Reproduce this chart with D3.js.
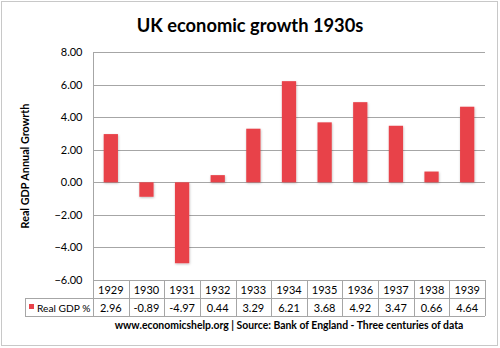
<!DOCTYPE html>
<html><head><meta charset="utf-8">
<script src="https://cdn.jsdelivr.net/npm/d3@7"></script>
<style>body{margin:0;background:#fff}svg{display:block;font-family:Lato,"Open Sans",sans-serif}</style>
</head><body>
<svg id="c" width="500" height="348"></svg>
<script>
const years = ["1929","1930","1931","1932","1933","1934","1935","1936","1937","1938","1939"];
const gdp = [2.96,-0.89,-4.97,0.44,3.29,6.21,3.68,4.92,3.47,0.66,4.64];
const gdpLabels = ["2.96","-0.89","-4.97","0.44","3.29","6.21","3.68","4.92","3.47","0.66","4.64"];
const yTicks = [8,6,4,2,0,-2,-4,-6];
const seriesName = "Real GDP %";
const titleText = "UK economic growth 1930s";
const yLabel = "Real GDP Annual Growrth";
const footer = "www.economicshelp.org | Source: Bank of England - Three centuries of data";

const svg = d3.select("#c");
const L = 93, R = 485, T = 52, B = 280;
const rowH = 18, legL = 25;
const red = "#e8434a", grid = "#a6a6a6";

svg.append("rect").attr("x",1.5).attr("y",1.5).attr("width",496).attr("height",344)
  .attr("fill","#fff").attr("stroke","#c8c8c8");

const y = d3.scaleLinear().domain([-6,8]).range([B,T]);
const x = d3.scaleBand().domain(years).range([L,R]).paddingInner(0.6).paddingOuter(0.3);
const col = d3.scaleBand().domain(years).range([L,R]).padding(0);

svg.append("text").attr("x",250).attr("y",32).attr("text-anchor","middle")
  .attr("font-size",18.3).attr("font-weight","bold").attr("fill","#000").text(titleText);

// gridlines
svg.append("g").selectAll("line").data(yTicks).join("line")
  .attr("x1",L).attr("x2",R).attr("y1",d=>Math.round(y(d))+0.5).attr("y2",d=>Math.round(y(d))+0.5)
  .attr("stroke",grid).attr("stroke-width",1);

// y axis
const ya = svg.append("g").attr("transform",`translate(${L+0.5},0)`)
  .call(d3.axisLeft(y).tickValues(yTicks).tickFormat(d3.format(".2f")).tickSize(0).tickPadding(11));
ya.select(".domain").remove();
ya.selectAll("text").attr("font-size",11).attr("fill","#000").attr("font-family","Lato,sans-serif");
svg.append("line").attr("x1",L+0.5).attr("x2",L+0.5).attr("y1",T).attr("y2",B+2*rowH).attr("stroke",grid);

svg.append("text").attr("transform",`translate(29,${(T+B)/2}) rotate(-90)`).attr("text-anchor","middle")
  .attr("font-size",10.8).attr("font-weight","bold").text(yLabel);

// bars with shadow
const defs = svg.append("defs");
const f = defs.append("filter").attr("id","sh").attr("x","-30%").attr("y","-30%").attr("width","160%").attr("height","160%");
f.append("feDropShadow").attr("dx",0.5).attr("dy",1).attr("stdDeviation",1).attr("flood-color","#000").attr("flood-opacity",0.25);

svg.append("g").selectAll("rect").data(gdp).join("rect")
  .attr("x",(d,i)=>x(years[i])).attr("width",x.bandwidth())
  .attr("y",d=>y(Math.max(0,d))).attr("height",d=>Math.abs(y(d)-y(0)))
  .attr("fill",red).attr("filter","url(#sh)");

// data table
const t = svg.append("g").attr("stroke",grid).attr("fill","none");
t.append("line").attr("x1",L).attr("x2",R).attr("y1",B+0.5).attr("y2",B+0.5);
t.append("line").attr("x1",legL).attr("x2",R).attr("y1",B+rowH+0.5).attr("y2",B+rowH+0.5);
t.append("line").attr("x1",legL).attr("x2",R).attr("y1",B+2*rowH+0.5).attr("y2",B+2*rowH+0.5);
t.append("line").attr("x1",legL+0.5).attr("x2",legL+0.5).attr("y1",B+rowH).attr("y2",B+2*rowH);
t.selectAll("line.v").data(years).join("line").attr("class","v")
  .attr("x1",d=>Math.round(col(d)+col.bandwidth())+0.5).attr("x2",d=>Math.round(col(d)+col.bandwidth())+0.5)
  .attr("y1",B).attr("y2",B+2*rowH);

svg.append("g").selectAll("text").data(years).join("text")
  .attr("x",d=>col(d)+col.bandwidth()/2).attr("y",B+13.5).attr("text-anchor","middle")
  .attr("font-size",11).text(d=>d);
svg.append("g").selectAll("text").data(gdpLabels).join("text")
  .attr("x",(d,i)=>col(years[i])+col.bandwidth()/2).attr("y",B+rowH+13.5).attr("text-anchor","middle")
  .attr("font-size",11).text(d=>d);
svg.append("rect").attr("x",29).attr("y",B+rowH+6).attr("width",5).attr("height",5).attr("fill",red);
svg.append("text").attr("x",37).attr("y",B+rowH+13.5).attr("font-size",10.2).text(seriesName);

svg.append("text").attr("x",(L+R)/2).attr("y",329).attr("text-anchor","middle")
  .attr("font-size",10.4).attr("font-weight","bold").text(footer);
</script>
</body></html>
